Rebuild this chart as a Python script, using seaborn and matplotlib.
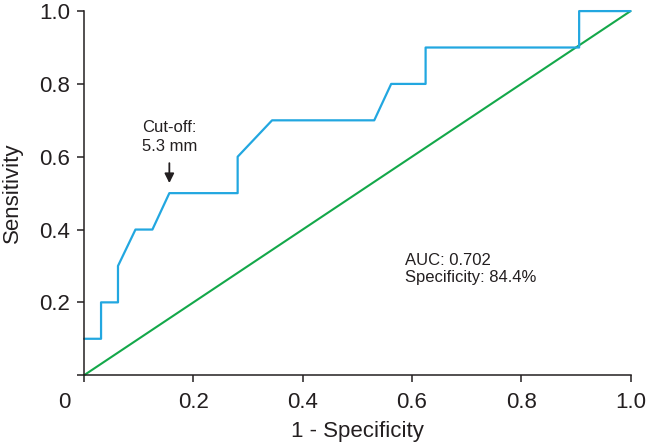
import pandas as pd
import matplotlib
matplotlib.use("Agg")
import matplotlib.pyplot as plt
import seaborn as sns

# ROC curve points
fpr = [0.0, 0.031, 0.031, 0.062, 0.062, 0.094, 0.125, 0.156, 0.281, 0.281,
       0.344, 0.531, 0.562, 0.625, 0.625, 0.906, 0.906, 1.0]
tpr = [0.1, 0.1, 0.2, 0.2, 0.3, 0.4, 0.4, 0.5, 0.5, 0.6,
       0.7, 0.7, 0.8, 0.8, 0.9, 0.9, 1.0, 1.0]
ref_x = [0.0, 1.0]
ref_y = [0.0, 1.0]
tick_vals = [0.0, 0.2, 0.4, 0.6, 0.8, 1.0]
tick_labels = ["", "0.2", "0.4", "0.6", "0.8", "1.0"]
cutoff = (0.156, 0.5)

sns.set_style("ticks")
plt.rcParams["font.family"] = ["Liberation Sans", "DejaVu Sans"]

INK = "#231f20"
BLUE = "#22a7e0"
GREEN = "#14a84a"

roc = pd.DataFrame({"fpr": fpr, "tpr": tpr})
diag = pd.DataFrame({"x": ref_x, "y": ref_y})

fig = plt.figure(figsize=(6.47, 4.44), dpi=100)
ax = fig.add_axes([0.13, 0.155, 0.8445, 0.82])

sns.lineplot(data=diag, x="x", y="y", ax=ax, color=GREEN, lw=1.5,
             sort=False, estimator=None, clip_on=False)
sns.lineplot(data=roc, x="fpr", y="tpr", ax=ax, color=BLUE, lw=1.6,
             sort=False, estimator=None, clip_on=False)

ax.set_xlim(0, 1)
ax.set_ylim(0, 1)
ax.set_xticks(tick_vals)
ax.set_xticklabels(tick_labels)
ax.set_yticks(tick_vals)
ax.set_yticklabels(tick_labels)
ax.tick_params(direction="out", length=5, width=1.1, colors=INK,
               labelsize=16, pad=5)
ax.tick_params(axis="x", pad=7)
ax.text(-0.037, -0.076, "0", ha="center", va="center", fontsize=16,
        color=INK, clip_on=False)

for s in ["top", "right"]:
    ax.spines[s].set_visible(False)
for s in ["left", "bottom"]:
    ax.spines[s].set_color(INK)
    ax.spines[s].set_linewidth(1.1)

ax.set_xlabel("1 - Specificity", fontsize=16, color=INK, labelpad=6)
ax.set_ylabel("Sensitivity", fontsize=16, color=INK, labelpad=12)

# cut-off marker
ax.annotate("", xy=(cutoff[0], cutoff[1] + 0.02), xytext=(cutoff[0], cutoff[1] + 0.09),
            arrowprops=dict(arrowstyle="-|>", color=INK, lw=1.3, mutation_scale=14))
ax.text(cutoff[0], cutoff[1] + 0.155, "Cut-off:\n5.3 mm", ha="center", va="center",
        fontsize=12, color=INK, linespacing=1.3)

ax.text(0.587, 0.292, "AUC: 0.702\nSpecificity: 84.4%", ha="left", va="center",
        fontsize=12, color=INK, linespacing=1.2)

fig.savefig("out.png", dpi=100)
